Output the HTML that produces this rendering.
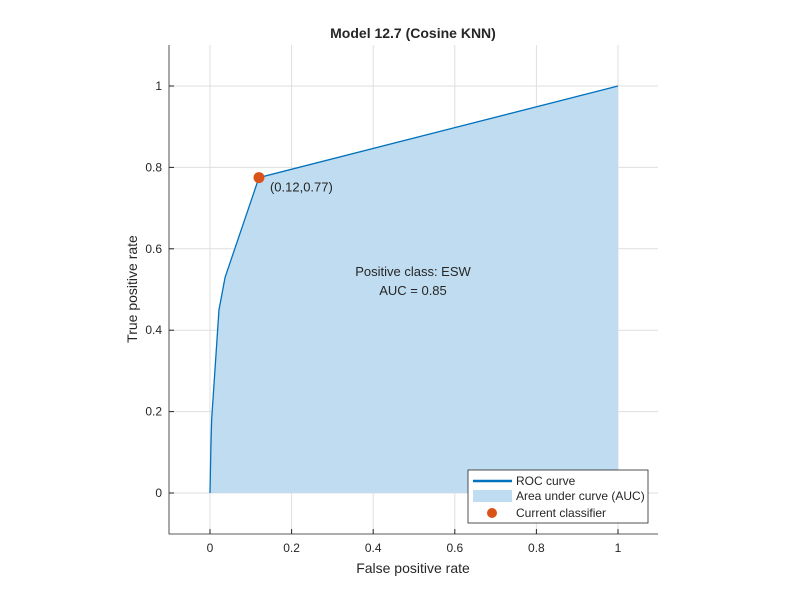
<!DOCTYPE html>
<html><head><meta charset="utf-8"><style>
body{margin:0;background:#fff}
svg text{font-family:"Liberation Sans",Arial,sans-serif;fill:#262626}
</style></head><body>
<svg id="chart" width="800" height="600" xmlns="http://www.w3.org/2000/svg">
<rect width="800" height="600" fill="#fff"/>
<g id="grid"></g>
<path id="area" fill="#c0dcf0" stroke="none"/>
<path id="curve" fill="none" stroke="#0072bd" stroke-width="1.3"/>
<path d="M169,45V534H658" fill="none" stroke="#262626" stroke-width="0.8"/>
<g id="ticks"></g>
<circle id="pt" r="5.5" fill="#d95319"/>
<text id="ptlabel" font-size="13">(0.12,0.77)</text>
<text x="413" y="38" font-size="14" font-weight="bold" text-anchor="middle" fill="#000">Model 12.7 (Cosine KNN)</text>
<text x="413" y="573" font-size="14" text-anchor="middle">False positive rate</text>
<text transform="translate(137,289) rotate(-90)" font-size="14" text-anchor="middle">True positive rate</text>
<text x="413" y="276" font-size="13" text-anchor="middle" fill="#000">Positive class: ESW</text>
<text x="413" y="295" font-size="13" text-anchor="middle" fill="#000">AUC = 0.85</text>
<g>
<rect x="468" y="470" width="180" height="53" fill="#fff" stroke="#262626" stroke-width="0.8"/>
<line x1="473" y1="481" x2="512" y2="481" stroke="#0072bd" stroke-width="2.5"/>
<text x="516" y="485" font-size="12" fill="#000">ROC curve</text>
<rect x="473" y="490" width="39" height="12" fill="#c0dcf0"/>
<text x="516" y="500" font-size="12" fill="#000">Area under curve (AUC)</text>
<circle cx="492" cy="513" r="5" fill="#d95319"/>
<text x="516" y="517" font-size="12" fill="#000">Current classifier</text>
</g>
</svg>
<script>
const fpr=[0,0.002,0.004,0.022,0.037,0.12,1];
const tpr=[0,0.105,0.18,0.45,0.53,0.775,1];
const current=[0.12,0.775];
const xTicks=[0,0.2,0.4,0.6,0.8,1];
const yTicks=[0,0.2,0.4,0.6,0.8,1];
const sx=v=>210+v*408, sy=v=>493-v*407;
const NS="http://www.w3.org/2000/svg";
const g=document.getElementById('grid'),t=document.getElementById('ticks');
function mk(tag,a,p){const e=document.createElementNS(NS,tag);for(const k in a)e.setAttribute(k,a[k]);p.appendChild(e);return e;}
xTicks.forEach(v=>{
 const l=mk('line',{x1:sx(v),x2:sx(v),y1:45,y2:534,stroke:'#dfdfdf','stroke-width':1},g);
 
 
 mk('line',{x1:sx(v),x2:sx(v),y1:534,y2:529,stroke:'#262626'},t);
 const tx=mk('text',{x:sx(v),y:552,'font-size':12,'text-anchor':'middle'},t);tx.textContent=v;
 
 
});
yTicks.forEach(v=>{
 const l=mk('line',{x1:169,x2:658,y1:sy(v),y2:sy(v),stroke:'#dfdfdf','stroke-width':1},g);
 
 
 mk('line',{x1:169,x2:174,y1:sy(v),y2:sy(v),stroke:'#262626'},t);
 const tx=mk('text',{x:162,y:sy(v)+4,'font-size':12,'text-anchor':'end'},t);tx.textContent=v;
 
 
});
let d=fpr.map((v,i)=>(i?'L':'M')+sx(v)+','+sy(tpr[i])).join('');
document.getElementById('curve').setAttribute('d',d);
document.getElementById('area').setAttribute('d',d+'L'+sx(fpr[fpr.length-1])+','+sy(0)+'L'+sx(fpr[0])+','+sy(0)+'Z');
const p=document.getElementById('pt');p.setAttribute('cx',sx(current[0]));p.setAttribute('cy',sy(current[1]));
const pl=document.getElementById('ptlabel');pl.setAttribute('x',sx(current[0])+11);pl.setAttribute('y',sy(current[1])+14);
</script>
</body></html>
